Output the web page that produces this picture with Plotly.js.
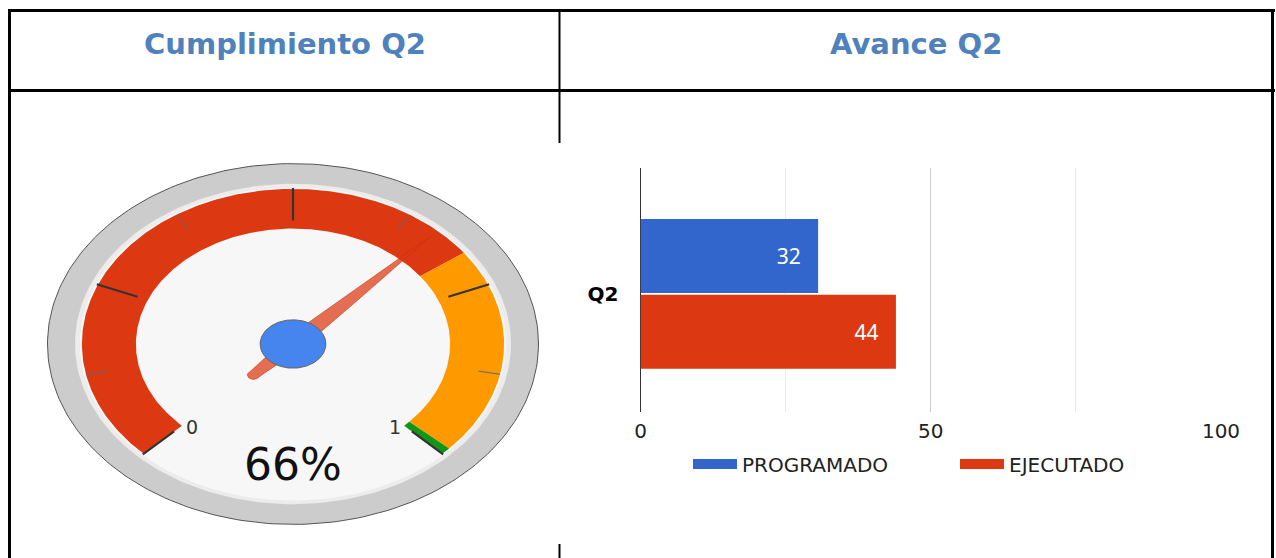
<!DOCTYPE html>
<html>
<head>
<meta charset="utf-8">
<script src="https://cdn.plot.ly/plotly-3.0.1.min.js"></script>
<style>
html,body{margin:0;padding:0;background:#ffffff;}
#chart{width:1276px;height:558px;}
</style>
</head>
<body>
<div id="chart"></div>
<script>
// ---------------- DATA ----------------
const headerTitles = ['Cumplimiento Q2', 'Avance Q2'];
const barCategories = ['Q2'];
const seriesNames = ['PROGRAMADO', 'EJECUTADO'];
const programadoValues = [30.6];
const ejecutadoValues = [44];
const programadoLabels = ['32'];
const ejecutadoLabels = ['44'];
const xTickValues = [0, 50, 100];

const gaugeValue = 0.66;
const gaugeText = '66%';
const gaugeMin = 0;
const gaugeMax = 1;
const bandFrom = [0, 0.70, 0.99];
const bandTo = [0.70, 0.99, 1.0];

// ---------------- STYLE / GEOMETRY ----------------
const W = 1276, H = 558;
const px = x => x / W;
const py = y => 1 - y / H;
const bandColors = ['#DC3912', '#FF9900', '#109618'];
const seriesColors = ['#3366CC', '#DC3912'];

const G = {cx: 293, cy: 344, rx: 245.5, ry: 180.4};
const majorCount = 4, minorPerMajor = 2;

function ang(v) { return (225 - 270 * (v - gaugeMin) / (gaugeMax - gaugeMin)) * Math.PI / 180; }
function pt(r, a) { return [G.cx + G.rx * r * Math.cos(a), G.cy - G.ry * r * Math.sin(a)]; }

function ellipse(r, fill, lineColor, lineWidth) {
  const xs = [], ys = [];
  for (let i = 0; i <= 240; i++) {
    const a = i / 240 * 2 * Math.PI;
    const p = pt(r, a); xs.push(p[0]); ys.push(p[1]);
  }
  return {type: 'scatter', x: xs, y: ys, xaxis: 'x2', yaxis: 'y2', mode: 'lines',
    fill: 'toself', fillcolor: fill,
    line: {color: lineColor || fill, width: lineWidth === undefined ? 0 : lineWidth},
    hoverinfo: 'skip', showlegend: false};
}

function sector(v0, v1, r0, r1, color) {
  const a0 = ang(v0), a1 = ang(v1);
  const n = Math.max(2, Math.ceil(Math.abs(a1 - a0) / 0.01));
  const xs = [], ys = [];
  for (let i = 0; i <= n; i++) { const p = pt(r1, a0 + (a1 - a0) * i / n); xs.push(p[0]); ys.push(p[1]); }
  for (let i = n; i >= 0; i--) { const p = pt(r0, a0 + (a1 - a0) * i / n); xs.push(p[0]); ys.push(p[1]); }
  xs.push(xs[0]); ys.push(ys[0]);
  return {type: 'scatter', x: xs, y: ys, xaxis: 'x2', yaxis: 'y2', mode: 'lines',
    fill: 'toself', fillcolor: color, line: {color: color, width: 0},
    hoverinfo: 'skip', showlegend: false};
}

function tickTrace(values, rIn, rOut, color, width) {
  const xs = [], ys = [];
  values.forEach(v => {
    const a = ang(v);
    const p1 = pt(rOut, a), p2 = pt(rIn, a);
    xs.push(p1[0], p2[0], null); ys.push(p1[1], p2[1], null);
  });
  return {type: 'scatter', x: xs, y: ys, xaxis: 'x2', yaxis: 'y2', mode: 'lines',
    line: {color: color, width: width}, hoverinfo: 'skip', showlegend: false};
}

function needleTrace(v) {
  const a = ang(v);
  const d = [Math.cos(a), Math.sin(a)], p = [-Math.sin(a), Math.cos(a)];
  const prof = [[0.823, 0], [0.35, 0.026], [0, 0.042], [-0.2, 0.025]];
  const local = prof.slice();
  const capC = -0.235, capR = 0.025;
  for (let i = 1; i < 12; i++) {
    const t = Math.PI / 2 + Math.PI * i / 12;
    local.push([capC + capR * Math.cos(t), capR * Math.sin(t)]);
  }
  for (let i = prof.length - 1; i >= 0; i--) local.push([prof[i][0], -prof[i][1]]);
  const xs = [], ys = [];
  local.forEach(q => {
    const X = q[0] * d[0] + q[1] * p[0], Y = q[0] * d[1] + q[1] * p[1];
    xs.push(G.cx + G.rx * X); ys.push(G.cy - G.ry * Y);
  });
  return {type: 'scatter', x: xs, y: ys, xaxis: 'x2', yaxis: 'y2', mode: 'lines',
    fill: 'toself', fillcolor: 'rgba(220,57,18,0.72)', line: {color: 'rgba(200,50,15,0.55)', width: 1},
    hoverinfo: 'skip', showlegend: false};
}

const majorVals = [], minorVals = [];
for (let i = 0; i <= majorCount; i++) majorVals.push(gaugeMin + (gaugeMax - gaugeMin) * i / majorCount);
for (let i = 0; i < majorCount; i++)
  for (let j = 1; j < minorPerMajor; j++)
    minorVals.push(gaugeMin + (gaugeMax - gaugeMin) * (i + j / minorPerMajor) / majorCount);

// ---------------- TRACES ----------------
const traces = [];
const barPad = '\u00a0\u00a0\u2009';
traces.push({
  type: 'bar', orientation: 'h', y: barCategories, x: programadoValues, name: seriesNames[0],
  text: programadoLabels, texttemplate: '%{text}' + barPad, textposition: 'inside', insidetextanchor: 'end',
  textfont: {family: 'Noto Sans', size: 21, color: '#ffffff'}, textangle: 0,
  marker: {color: seriesColors[0]}, showlegend: false, hoverinfo: 'skip', cliponaxis: false
});
traces.push({
  type: 'bar', orientation: 'h', y: barCategories, x: ejecutadoValues, name: seriesNames[1],
  text: ejecutadoLabels, texttemplate: '%{text}' + barPad, textposition: 'inside', insidetextanchor: 'end',
  textfont: {family: 'Noto Sans', size: 21, color: '#ffffff'}, textangle: 0,
  marker: {color: seriesColors[1]}, showlegend: false, hoverinfo: 'skip', cliponaxis: false
});
// legend entries
seriesNames.forEach((n, i) => traces.push({
  type: 'scatter', mode: 'lines', x: [null], y: [null], name: n,
  line: {color: seriesColors[i], width: 14}, showlegend: true, hoverinfo: 'skip'
}));

// gauge
traces.push(ellipse(1.0, '#cccccc', '#555555', 1));
traces.push(ellipse(0.888, '#ececec'));
traces.push(ellipse(0.868, '#f7f7f7'));
bandFrom.forEach((f, i) => traces.push(sector(f, bandTo[i], 0.64, 0.86, bandColors[i])));
traces.push(tickTrace(minorVals, 0.77, 0.86, '#666666', 1));
traces.push(tickTrace(majorVals, 0.685, 0.865, '#333333', 2.2));
traces.push(needleTrace(gaugeValue));
traces.push(ellipse(0.134, '#4684EE', '#666666', 1));

// ---------------- LAYOUT ----------------
const borderColor = '#000000';
function hline(y, x0, x1, w) {
  return {type: 'line', xref: 'paper', yref: 'paper', x0: px(x0), x1: px(x1), y0: py(y), y1: py(y),
    line: {color: borderColor, width: w}, layer: 'above'};
}
function vline(x, y0, y1, w) {
  return {type: 'line', xref: 'paper', yref: 'paper', x0: px(x), x1: px(x), y0: py(y0), y1: py(y1),
    line: {color: borderColor, width: w}, layer: 'above'};
}
const labelMin = pt(0.617, ang(gaugeMin) + 3.2 * Math.PI / 180);
const labelMax = pt(0.62, ang(gaugeMax) - 2.7 * Math.PI / 180);

const layout = {
  width: W, height: H,
  margin: {l: 0, r: 0, t: 0, b: 0, pad: 0},
  paper_bgcolor: '#ffffff', plot_bgcolor: 'rgba(0,0,0,0)',
  font: {family: 'DejaVu Sans', color: '#222222'},
  barmode: 'group', bargap: 0.379, bargroupgap: 0.022,
  xaxis: {
    domain: [px(640.5), px(1221)], range: [0, 100], tickmode: 'array', tickvals: xTickValues,
    ticktext: xTickValues.map(String),
    showgrid: true, gridcolor: '#cccccc', gridwidth: 1,
    minor: {tickmode: 'linear', tick0: 0, dtick: 25, showgrid: true, gridcolor: '#ebebeb', gridwidth: 1, ticks: ''},
    zeroline: true, zerolinecolor: '#333333', zerolinewidth: 1,
    showline: false, ticks: '', ticklabelstandoff: 5,
    tickfont: {family: 'DejaVu Sans', size: 20, color: '#222222'}, fixedrange: true
  },
  yaxis: {
    domain: [py(412), py(168)], type: 'category', range: [0.484, -0.516],
    showgrid: false, zeroline: false, showline: false, ticks: '', ticklabelstandoff: 21,
    tickfont: {family: 'DejaVu Sans', size: 20, color: '#000000', weight: 'bold'}, fixedrange: true
  },
  xaxis2: {domain: [0, px(559)], range: [0, 559], visible: false, fixedrange: true, anchor: 'y2'},
  yaxis2: {domain: [0, 1], range: [558, 0], visible: false, fixedrange: true, anchor: 'x2'},
  showlegend: true,
  legend: {
    orientation: 'h', x: px(688), xanchor: 'left', y: py(464), yanchor: 'middle',
    font: {family: 'DejaVu Sans', size: 20, color: '#222222'},
    itemwidth: 44, entrywidth: 208, entrywidthmode: 'pixels',
    bgcolor: 'rgba(0,0,0,0)', borderwidth: 0, traceorder: 'normal'
  },
  shapes: [
    hline(10.5, 8, 1275, 3),
    hline(90.5, 8, 1275, 3),
    vline(9.5, 9, 558, 3),
    vline(1272.5, 9, 558, 3),
    vline(559.5, 10, 143, 2),
    vline(559.5, 544, 558, 2)
  ],
  annotations: [
    {xref: 'paper', yref: 'paper', x: px(284.5), y: py(44), text: headerTitles[0], showarrow: false,
      xanchor: 'center', yanchor: 'middle', font: {family: 'DejaVu Sans', size: 29, color: '#4F81BD', weight: 'bold'}},
    {xref: 'paper', yref: 'paper', x: px(915.5), y: py(44), text: headerTitles[1], showarrow: false,
      xanchor: 'center', yanchor: 'middle', font: {family: 'DejaVu Sans', size: 29, color: '#4F81BD', weight: 'bold'}},
    {xref: 'x2', yref: 'y2', x: labelMin[0], y: labelMin[1], text: String(gaugeMin), showarrow: false,
      xanchor: 'center', yanchor: 'middle', font: {family: 'DejaVu Sans', size: 19, color: '#333333'}},
    {xref: 'x2', yref: 'y2', x: labelMax[0], y: labelMax[1], text: String(gaugeMax), showarrow: false,
      xanchor: 'center', yanchor: 'middle', font: {family: 'DejaVu Sans', size: 19, color: '#333333'}},
    {xref: 'x2', yref: 'y2', x: G.cx, y: G.cy + 0.67 * G.ry, text: gaugeText, showarrow: false,
      xanchor: 'center', yanchor: 'middle', font: {family: 'DejaVu Sans', size: 44, color: '#111111'}}
  ]
};

Plotly.newPlot('chart', traces, layout, {displayModeBar: false, staticPlot: true});
</script>
</body>
</html>
